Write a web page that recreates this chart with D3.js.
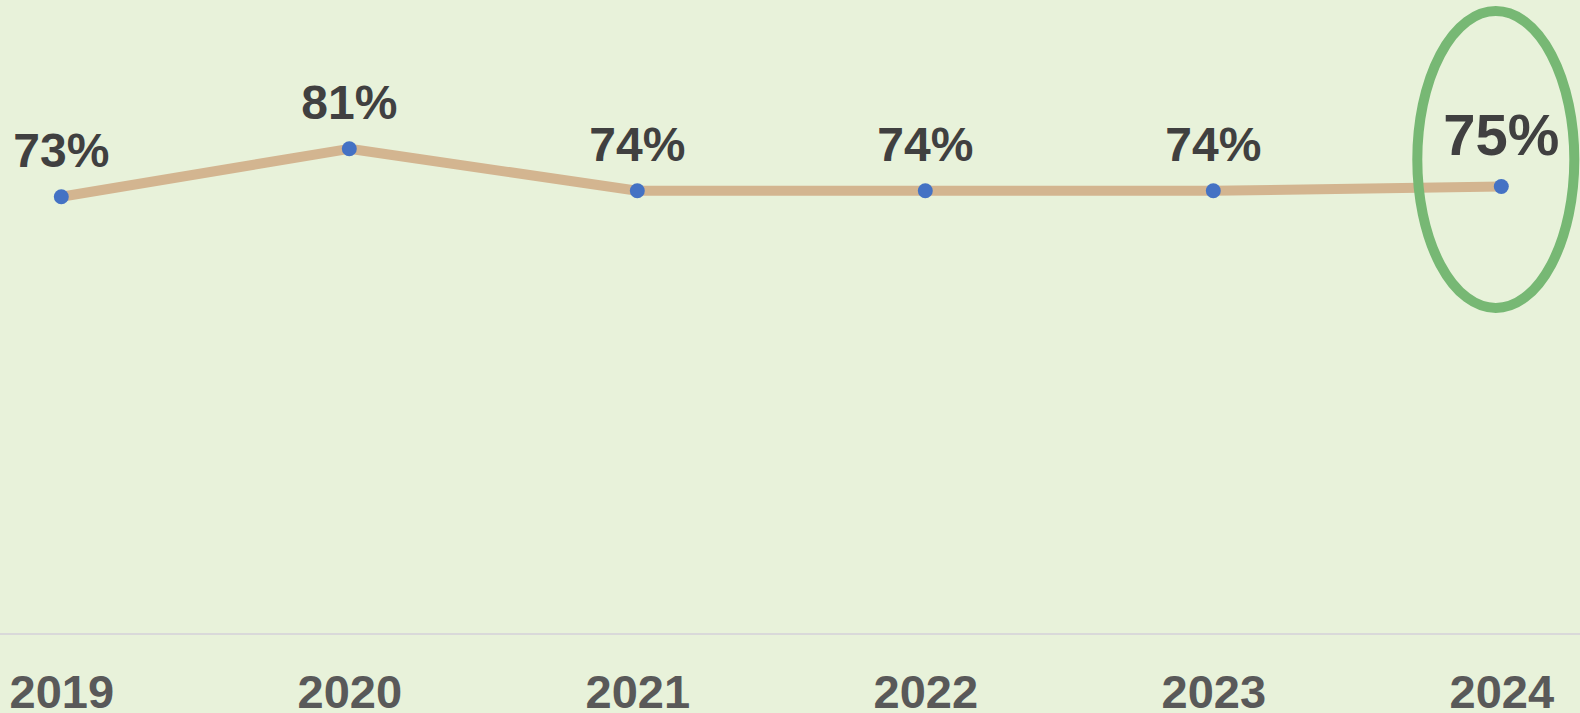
<!DOCTYPE html>
<html>
<head>
<meta charset="utf-8">
<script src="https://cdn.jsdelivr.net/npm/d3@7/dist/d3.min.js"></script>
<style>
  html, body { margin: 0; padding: 0; background: #e8f2da; }
  svg { display: block; }
</style>
</head>
<body>
<svg id="chart" width="1580" height="713"></svg>
<script>
const years = ["2019", "2020", "2021", "2022", "2023", "2024"];
const values = [0.730, 0.810, 0.740, 0.740, 0.740, 0.747];
const labels = ["73%", "81%", "74%", "74%", "74%", "75%"];
const highlightIndex = 5;

const W = 1580, H = 713;
const svg = d3.select("#chart");

svg.append("rect").attr("width", W).attr("height", H).attr("fill", "#e8f2da");

const x = d3.scalePoint().domain(years).range([61.3, 1501.3]).padding(0);
const y = d3.scaleLinear().domain([0, 1]).range([634, 35]);

// baseline axis line
svg.append("line")
  .attr("x1", 0).attr("x2", W)
  .attr("y1", y(0)).attr("y2", y(0))
  .attr("stroke", "#d9d9d9").attr("stroke-width", 2);

// x axis labels
const xAxis = d3.axisBottom(x).tickSize(0).tickPadding(0);
const gx = svg.append("g").attr("transform", `translate(0,${y(0)})`).call(xAxis);
gx.select(".domain").remove();
gx.selectAll("text")
  .attr("y", 74)
  .attr("dy", 0)
  .attr("font-family", "'Liberation Sans', Arial, sans-serif")
  .attr("font-weight", "bold")
  .attr("font-size", 47)
  .attr("fill", "#595959");

const data = years.map((yr, i) => ({ yr, v: values[i], label: labels[i], i }));

// line
const line = d3.line().x(d => x(d.yr)).y(d => y(d.v));
svg.append("path")
  .datum(data)
  .attr("d", line)
  .attr("fill", "none")
  .attr("stroke", "#d3b590")
  .attr("stroke-width", 10)
  .attr("stroke-linejoin", "round");

// points
svg.selectAll("circle.pt")
  .data(data)
  .join("circle")
  .attr("class", "pt")
  .attr("cx", d => x(d.yr))
  .attr("cy", d => y(d.v))
  .attr("r", 7.5)
  .attr("fill", "#4472c4");

// data labels
svg.selectAll("text.lbl")
  .data(data)
  .join("text")
  .attr("class", "lbl")
  .attr("x", d => x(d.yr))
  .attr("y", d => y(d.v) - (d.i === highlightIndex ? 32 : 30))
  .attr("text-anchor", "middle")
  .attr("font-family", "'Liberation Sans', Arial, sans-serif")
  .attr("font-weight", "bold")
  .attr("font-size", d => d.i === highlightIndex ? 58 : 48)
  .attr("fill", "#404040")
  .text(d => d.label);

// highlight ellipse
const hd = data[highlightIndex];
svg.append("ellipse")
  .attr("cx", x(hd.yr) - 5.5)
  .attr("cy", y(hd.v) - 27)
  .attr("rx", 78.5)
  .attr("ry", 148.5)
  .attr("fill", "none")
  .attr("stroke", "#77b874")
  .attr("stroke-width", 10);
</script>
</body>
</html>
